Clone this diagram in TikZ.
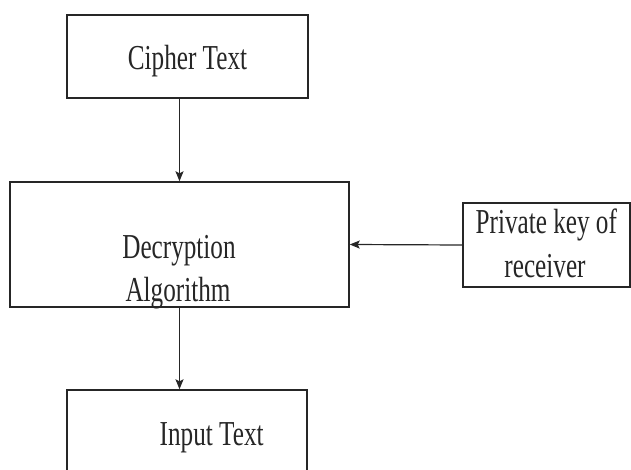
\documentclass[tikz,border=0pt]{standalone}
\usepackage{fontspec}
\setmainfont{Liberation Serif}[FakeStretch=0.72]
\usetikzlibrary{arrows.meta}
\definecolor{ink}{HTML}{262626}
\tikzset{
  box/.style={draw=ink, line width=1.4pt, rectangle, inner sep=0pt, fill=white},
  lbl/.style={anchor=base, inner sep=0pt, text=ink, font=\fontsize{35}{42}\selectfont},
  arr/.style={draw=ink, line width=1.2pt, -{Stealth[length=10pt,width=8pt,inset=2pt]}}
}
\begin{document}
\begin{tikzpicture}[x=1pt,y=-1pt]
\useasboundingbox (0,0) rectangle (631,470);
\clip (0,0) rectangle (631,470);
\node[box, minimum width=241pt, minimum height=83pt] (cipher) at (187.5,56.5) {};
\node[box, minimum width=339pt, minimum height=125pt] (dec) at (179.5,244.5) {};
\node[box, minimum width=167pt, minimum height=84pt] (key) at (546.5,245) {};
\node[box, minimum width=240pt, minimum height=110pt] (input) at (187,445) {};
\node[lbl] (tcipher) at (187.5,70) {Cipher Text};
\node[lbl] (tdec1) at (179,258.3) {Decryption};
\node[lbl] (tdec2) at (178,301.7) {Algorithm};
\node[lbl] (tkey1) at (546.3,233.3) {Private key of};
\node[lbl] (tkey2) at (545,277.3) {receiver};
\node[lbl] (tinput) at (211.7,445) {Input Text};
\draw[arr] (cipher.south -| dec.north) -- (dec.north);
\draw[arr] (key.west) -- (dec.east);
\draw[arr] (dec.south) -- (dec.south |- input.north);
\end{tikzpicture}
\end{document}
